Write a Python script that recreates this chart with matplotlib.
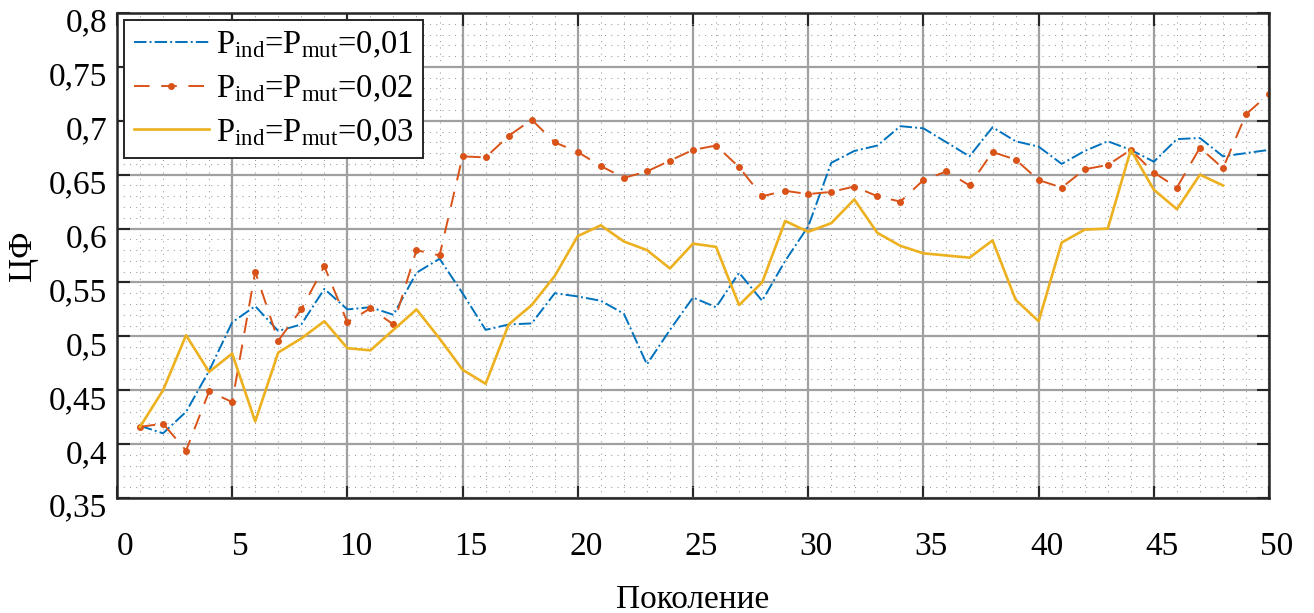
import numpy as np
import matplotlib
matplotlib.use('Agg')
import matplotlib.pyplot as plt
import matplotlib.transforms as mtransforms
from matplotlib.ticker import MultipleLocator, FuncFormatter

# Поколения
gen = np.arange(1, 51)
gen3 = np.arange(1, 49)

# Значения ЦФ для трёх вариантов вероятностей
cf_001 = [0.417, 0.410, 0.430, 0.468, 0.513, 0.528, 0.505, 0.511, 0.544, 0.525,
          0.527, 0.520, 0.559, 0.572, 0.540, 0.506, 0.511, 0.512, 0.540, 0.537,
          0.533, 0.521, 0.474, 0.506, 0.536, 0.527, 0.559, 0.533, 0.570, 0.602,
          0.661, 0.672, 0.677, 0.695, 0.693, 0.680, 0.667, 0.694, 0.681, 0.676,
          0.660, 0.672, 0.681, 0.673, 0.662, 0.683, 0.684, 0.667, 0.670, 0.673]
cf_002 = [0.416, 0.419, 0.394, 0.449, 0.439, 0.560, 0.496, 0.525, 0.565, 0.513,
          0.526, 0.511, 0.580, 0.575, 0.667, 0.666, 0.686, 0.701, 0.680, 0.671,
          0.658, 0.647, 0.653, 0.663, 0.673, 0.677, 0.657, 0.630, 0.635, 0.632,
          0.634, 0.639, 0.630, 0.625, 0.645, 0.653, 0.640, 0.671, 0.664, 0.645,
          0.638, 0.655, 0.659, 0.673, 0.652, 0.638, 0.675, 0.656, 0.706, 0.725]
cf_003 = [0.416, 0.450, 0.501, 0.467, 0.484, 0.421, 0.485, 0.498, 0.514, 0.489,
          0.487, 0.506, 0.525, 0.498, 0.469, 0.456, 0.511, 0.529, 0.556, 0.593,
          0.603, 0.588, 0.580, 0.563, 0.586, 0.583, 0.529, 0.550, 0.607, 0.597,
          0.605, 0.627, 0.596, 0.584, 0.577, 0.575, 0.573, 0.589, 0.534, 0.514,
          0.587, 0.599, 0.600, 0.673, 0.636, 0.618, 0.650, 0.640]

x_ticks = np.arange(0, 51, 5)
y_ticks = np.arange(0.35, 0.801, 0.05)

plt.rcParams['font.family'] = ['Liberation Serif', 'DejaVu Serif']
plt.rcParams['mathtext.fontset'] = 'custom'
plt.rcParams['mathtext.rm'] = 'Liberation Serif'
plt.rcParams['mathtext.it'] = 'Liberation Serif:italic'

fig = plt.figure(figsize=(13.14, 6.13), dpi=100)
ax = fig.add_axes([0.089, 0.1876, 0.8768, 0.7912])

ax.plot(gen, cf_001, '-.', color='#0072BD', linewidth=1.4,
        label=r'P$_{\mathrm{ind}}$=P$_{\mathrm{mut}}$=0,01')
ax.plot(gen, cf_002, '--', color='#D95319', linewidth=1.4, marker='.', markersize=8,
        dashes=(8, 6), label=r'P$_{\mathrm{ind}}$=P$_{\mathrm{mut}}$=0,02')
ax.plot(gen3, cf_003, '-', color='#EDB120', linewidth=1.9,
        label=r'P$_{\mathrm{ind}}$=P$_{\mathrm{mut}}$=0,03')

ax.set_xlim(0, 50)
ax.set_ylim(0.35, 0.8)
ax.set_xticks(x_ticks)
ax.set_yticks(y_ticks)
ax.xaxis.set_minor_locator(MultipleLocator(1))
ax.yaxis.set_minor_locator(MultipleLocator(0.01))

def fmt(v, pos):
    s = ('%.2f' % v).rstrip('0').rstrip('.')
    return s.replace('.', ',')

ax.yaxis.set_major_formatter(FuncFormatter(fmt))

ax.grid(which='major', color='#a0a0a0', linewidth=1.6, linestyle='-')
ax.grid(which='minor', color='#9a9a9a', linewidth=0.75, linestyle=(0, (1, 5)))
ax.set_axisbelow(True)

ax.tick_params(which='major', direction='in', length=9, width=1.5,
               top=True, right=True, labelsize=24, color='#262626')
ax.tick_params(axis='x', which='major', pad=24)
ax.tick_params(axis='y', which='major', pad=7)
ax.tick_params(which='minor', length=0)
for sp in ax.spines.values():
    sp.set_linewidth(1.8)
    sp.set_color('#262626')

ax.set_xlabel('Поколение', fontsize=24, labelpad=16)
ax.set_ylabel('ЦФ', fontsize=24, labelpad=8)

leg = ax.legend(loc='upper left', fontsize=23.5, frameon=True, fancybox=False,
                handlelength=2.3, handletextpad=0.2, borderpad=0.3,
                labelspacing=0.4, borderaxespad=0.22)
leg.get_frame().set_edgecolor('#262626')
leg.get_frame().set_linewidth(1.4)
leg.get_frame().set_alpha(1)

# сдвиг подписей делений как в исходном рисунке
fig.canvas.draw()
dx = mtransforms.ScaledTranslation(8 / 100, 0, fig.dpi_scale_trans)
dy = mtransforms.ScaledTranslation(0, -7 / 100, fig.dpi_scale_trans)
for t in ax.xaxis.get_major_ticks():
    t.label1.set_transform(t.label1.get_transform() + dx)
for t in ax.yaxis.get_major_ticks():
    t.label1.set_transform(t.label1.get_transform() + dy)

fig.savefig('out.png', dpi=100)
